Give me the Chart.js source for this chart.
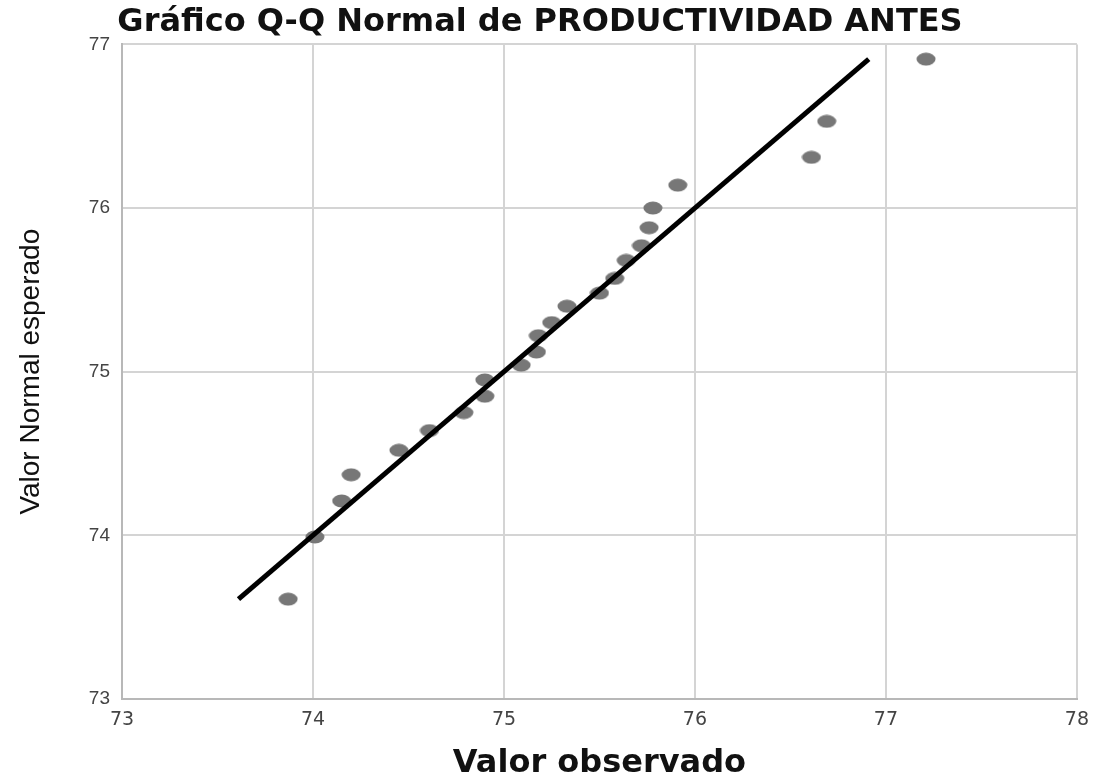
<!DOCTYPE html>
<html>
<head>
<meta charset="utf-8">
<script src="https://cdn.jsdelivr.net/npm/chart.js@4"></script>
<style>
  html, body { margin: 0; padding: 0; background: #fff; }
  #wrap { width: 1099px; height: 776px; }
</style>
</head>
<body>
<div id="wrap"><canvas id="qq"></canvas></div>
<script>
let observed = [73.87, 74.01, 74.15, 74.20, 74.45, 74.61, 74.79, 74.90, 74.90, 75.09, 75.17, 75.18,
  75.25, 75.33, 75.50, 75.58, 75.64, 75.72, 75.76, 75.78, 75.91, 76.61, 76.69, 77.21];
let expected = [73.61, 73.99, 74.21, 74.37, 74.52, 74.64, 74.75, 74.85, 74.95, 75.04, 75.12, 75.22,
  75.30, 75.40, 75.48, 75.57, 75.68, 75.77, 75.88, 76.00, 76.14, 76.31, 76.53, 76.91];
// reference line y = x, from min to max expected value
let refLine = [73.61, 76.91];
let xTicks = [73, 74, 75, 76, 77, 78];
let yTicks = [73, 74, 75, 76, 77];

// ellipse marker (the source picture is stretched sideways)
let dot = document.createElement('canvas');
dot.width = 20; dot.height = 14;
let dctx = dot.getContext('2d');
dctx.fillStyle = '#777';
dctx.beginPath();
dctx.ellipse(10, 7, 9.5, 6.5, 0, 0, Math.PI * 2);
dctx.fill();

let ctx = document.getElementById('qq').getContext('2d');

let qqChart = new Chart(ctx, {
  type: 'scatter',
  data: {
    datasets: [{
      type: 'line',
      label: 'ref',
      data: refLine.map(v => ({ x: v, y: v })),
      borderColor: '#000',
      borderWidth: 5,
      pointRadius: 0,
      fill: false
    }, {
      label: 'points',
      data: observed.map((v, i) => ({ x: v, y: expected[i] })),
      pointStyle: dot,
      pointRadius: 9,
      backgroundColor: '#777',
      borderColor: '#777'
    }]
  },
  options: {
    responsive: true,
    maintainAspectRatio: false,
    animation: false,
    devicePixelRatio: 1,
    layout: { padding: { top: 0, right: 19, left: 0, bottom: 0 } },
    plugins: {
      legend: { display: false },
      tooltip: { enabled: false },
      title: {
        display: true,
        text: 'Gráfico Q-Q Normal de PRODUCTIVIDAD ANTES',
        color: '#111',
        font: { family: 'DejaVu Sans, sans-serif', size: 32, weight: 'bold', lineHeight: 1.2 },
        padding: { top: 3, bottom: 3 }
      }
    },
    scales: {
      x: {
        type: 'linear',
        min: 73,
        max: 78,
        afterBuildTicks: s => { s.ticks = xTicks.map(v => ({ value: v })); },
        afterFit: s => { s.height = 77; },
        grid: { color: '#d4d4d4', lineWidth: 2, drawTicks: false },
        border: { color: '#b8b8b8', width: 2 },
        ticks: {
          color: '#444',
          padding: 10,
          font: { family: 'DejaVu Sans, sans-serif', size: 19 }
        },
        title: {
          display: true,
          text: 'Valor observado',
          color: '#111',
          font: { family: 'DejaVu Sans, sans-serif', size: 32, weight: 'bold', lineHeight: 1 },
          padding: { top: 0, bottom: -4 }
        }
      },
      y: {
        type: 'linear',
        min: 73,
        max: 77,
        afterBuildTicks: s => { s.ticks = yTicks.map(v => ({ value: v })); },
        afterFit: s => { s.width = 122; },
        grid: { color: '#d4d4d4', lineWidth: 2, drawTicks: false },
        border: { color: '#b8b8b8', width: 2 },
        ticks: {
          color: '#444',
          padding: 12,
          font: { family: 'Liberation Sans, Arial, sans-serif', size: 19 }
        },
        title: {
          display: true,
          text: 'Valor Normal esperado',
          color: '#111',
          font: { family: 'Liberation Sans, Arial, sans-serif', size: 28, lineHeight: 1.2 },
          padding: { top: 14, bottom: 0 }
        }
      }
    }
  }
});
</script>
</body>
</html>
